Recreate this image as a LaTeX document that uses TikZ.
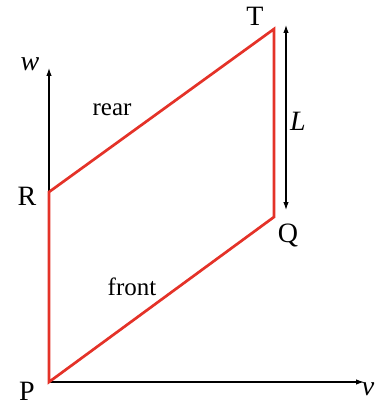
\documentclass[tikz,border=0pt]{standalone}
\usepackage{fontspec}
\setmainfont{Liberation Serif}
\usetikzlibrary{arrows.meta}
\definecolor{edgered}{RGB}{228,50,40}
\tikzset{
  edge/.style={draw=edgered, line width=2.7pt, line join=miter},
  axis/.style={draw=black, line width=1.1pt, -{Latex[length=8pt,width=5.5pt]}},
  dim/.style={draw=black, line width=1.1pt, {Latex[length=8pt,width=5.5pt]}-{Latex[length=8pt,width=5.5pt]}},
  lbl/.style={font=\fontsize{28}{30}\selectfont, inner sep=0pt},
  txt/.style={font=\fontsize{25}{27}\selectfont, inner sep=0pt}
}
\begin{document}
\begin{tikzpicture}[x=1pt,y=-1pt]
\useasboundingbox (0,0) rectangle (375,406);
\coordinate (P) at (49,382);
\coordinate (R) at (49,192);
\coordinate (T) at (274,29);
\coordinate (Q) at (274,217);
\coordinate (wtip) at (49,68);
\coordinate (vtip) at (364,382);
\coordinate (Ltop) at (286,25);
\coordinate (Lbot) at (286,210);
\draw[axis] (P) -- (wtip);
\draw[axis] (P) -- (vtip);
\draw[dim] (Ltop) -- (Lbot);
\draw[edge] (P) -- (R) -- (T) -- (Q) -- cycle;
\node[lbl] (lT) at (255,16) {T};
\node[lbl] (lR) at (27,196) {R};
\node[lbl] (lQ) at (288,235) {Q};
\node[lbl] (lP) at (27,391) {P};
\node[lbl] (lw) at (30,64) {\itshape w};
\node[lbl] (lv) at (368,389) {\itshape v};
\node[lbl] (lL) at (298,121) {\itshape L};
\node[txt] (rear) at (112,110) {rear};
\node[txt] (front) at (132,287) {front};
\end{tikzpicture}
\end{document}
